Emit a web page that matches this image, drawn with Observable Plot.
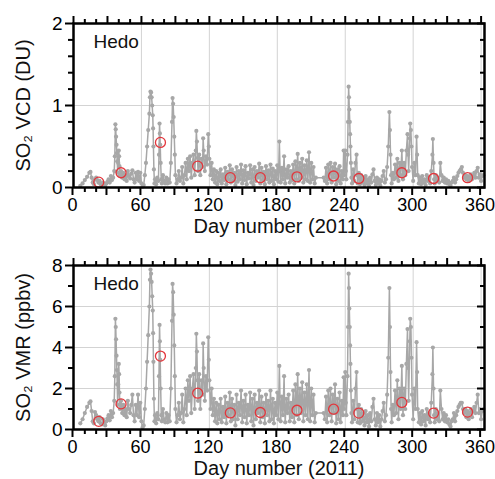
<!DOCTYPE html>
<html><head><meta charset="utf-8">
<script src="https://cdn.jsdelivr.net/npm/d3@7"></script>
<script src="https://cdn.jsdelivr.net/npm/@observablehq/plot@0.6"></script>
<style>
body{margin:0;background:#fff;}
#chart{width:495px;height:479px;overflow:hidden;}
#chart svg{display:block;}
</style></head><body><div id="chart"></div>
<script>
const stationName = "Hedo";
const xLabel = "Day number (2011)";
const vcdLabel = "SO₂ VCD (DU)";
const vmrLabel = "SO₂ VMR (ppbv)";
const xTickLabels = [0, 60, 120, 180, 240, 300, 360];
const xMajorTicks = [0, 30, 60, 90, 120, 150, 180, 210, 240, 270, 300, 330, 360];
const xMinorTicks = [10, 20, 40, 50, 70, 80, 100, 110, 130, 140, 160, 170, 190, 200, 220, 230, 250, 260, 280, 290, 310, 320, 340, 350];
const vcdTickLabels = [0, 1, 2];
const vcdMinorTicks = [0.2, 0.4, 0.6, 0.8, 1.2, 1.4, 1.6, 1.8];
const vcdGrid = [1];
const vmrTickLabels = [0, 2, 4, 6, 8];
const vmrMinorTicks = [1, 3, 5, 7];
const vmrGrid = [2, 4, 6];

// monthly means (red circles)
const meanDays = [22.3, 42, 76.8, 109.7, 138.5, 165, 197.4, 229.7, 252, 290, 318, 348];
const vcdMeans = [0.065, 0.18, 0.55, 0.26, 0.12, 0.12, 0.13, 0.14, 0.11, 0.18, 0.11, 0.12];
const vmrMeans = [0.40, 1.25, 3.58, 1.77, 0.81, 0.83, 0.94, 0.99, 0.80, 1.32, 0.80, 0.85];

// observations: [day, SO2 VCD (DU)]
const vcdSeries = [
[6,0.02],[8,0.05],[10,0.09],[12,0.13],[14,0.18],[15,0.19],[16,0.12],[17,0.06],[18,0.04],[19,0.10],[20,0.12],[21,0.09],[22,0.06],[23,0.08],[24,0.04],[25,0.03],[26,0.06],[27,0.04],[28,0.02],[29,0.05],[30,0.07],[31,0.10],[32,0.06],[33,0.14],[34,0.09],[35,0.12],[36,0.20],[36.5,0.38],[37,0.77],[37.3,0.71],[37.6,0.62],[38,0.52],[38.3,0.42],[38.6,0.32],[39,0.18],[39.5,0.30],[40,0.45],[40.3,0.38],[40.6,0.26],[41,0.15],[42,0.20],[43,0.12],[44,0.18],[45,0.10],[46,0.15],[47,0.08],[48,0.20],[49,0.14],[50,0.11],[51,0.17],[52,0.21],[53,0.10],[54,0.06],[55,0.18],[56,0.10],[57,0.19],[58,0.08],[59,0.18],[60,0.05],[61,0.01],[62,0.03],
[63,0.15],[64,0.30],[65,0.50],[66,0.70],[67,0.90],[67.5,1.10],[68,1.17],[68.5,1.16],[69,1.10],[69.5,1.00],[70,0.88],[70.3,0.72],[70.6,0.50],[71,0.22],[71.5,0.05],[72,0.10],[73,0.04],[74,0.12],[75,0.08],[75.5,0.40],[76,0.78],[76.3,0.66],[76.6,0.52],[77,0.30],[77.5,0.10],[78,0.05],[79,0.15],[80,0.08],[81,0.05],[82,0.12],[83,0.05],[84,0.10],[85,0.06],[86,0.30],[87,0.80],[87.5,1.09],[88,1.02],[88.5,0.86],[89,0.62],[89.5,0.40],[90,0.15],[91,0.05],[92,0.10],[93,0.20],[94,0.08],[95,0.12],[96,0.25],[97,0.05],[98,0.15],[99,0.30],[100,0.10],[101,0.35],[102,0.20],[103,0.38],[104,0.12],[105,0.30],[106,0.40],[107,0.15],[108,0.45],[108.5,0.69],[109,0.56],[109.5,0.36],[110,0.20],[111,0.40],[112,0.15],[113,0.35],[114,0.25],[114.5,0.60],[115,0.45],[116,0.20],[117,0.38],[118,0.28],[119,0.65],[119.5,0.50],[120,0.35],[121,0.15],[122,0.30],[123,0.10],[124,0.22],
[125,0.06],[126,0.20],[127,0.04],[128,0.18],[129,0.08],[130,0.22],[131,0.05],[132,0.16],[133,0.09],[134,0.24],[135,0.04],[136,0.19],[137,0.10],[138,0.27],[139,0.06],[140,0.22],[141,0.08],[142,0.18],[143,0.03],[144,0.25],[145,0.07],[146,0.20],[147,0.10],[148,0.28],[149,0.05],[150,0.21],[151,0.09],[152,0.26],[153,0.04],[154,0.18],[155,0.11],[156,0.27],[157,0.06],[158,0.22],[159,0.03],[160,0.25],[161,0.08],[162,0.20],[163,0.12],[164,0.29],[165,0.05],[166,0.24],[167,0.09],[168,0.19],[169,0.04],[170,0.26],[171,0.10],[172,0.21],[173,0.06],[174,0.28],[175,0.08],[176,0.23],[177,0.04],[178,0.20],[179,0.10],[180,0.27],[181,0.07],[181.8,0.56],[182.5,0.20],[183,0.06],[184,0.24],[185,0.10],[186,0.38],[186.5,0.15],[187,0.05],[188,0.22],[189,0.12],[190,0.26],[191,0.06],[192,0.20],[193,0.09],[194,0.28],[195,0.05],[196,0.32],[197,0.10],[198,0.41],[198.5,0.22],[199,0.08],[200,0.30],[201,0.12],[202,0.35],[203,0.06],[204,0.27],[205,0.10],[206,0.33],[207,0.08],[208,0.43],[208.5,0.20],[209,0.06],[210,0.30],[211,0.10],[212,0.25],[213,0.05],[214,0.12],
[221,0.12],[222,0.08],[223,0.24],[224,0.05],[225,0.28],[226,0.10],[227,0.30],[228,0.06],[229,0.25],[230,0.12],[231,0.29],[232,0.04],[233,0.22],[234,0.08],[235,0.26],[236,0.05],[237,0.20],[238,0.10],[238.6,0.45],[239,0.15],[240,0.45],[240.5,0.20],[241,0.10],[242,0.40],[242.5,0.80],[243,1.23],[243.3,1.10],[243.6,0.95],[244,0.80],[244.3,0.65],[244.6,0.50],[245,0.30],[245.5,0.12],[246,0.05],[247,0.22],[248,0.08],[249,0.30],[250,0.40],[250.5,0.15],[251,0.05],[252,0.18],[253,0.04],[254,0.15],[255,0.06],[256,0.12],[257,0.03],[258,0.14],[259,0.05],[260,0.10],[261,0.02],[262,0.12],[263,0.06],[264,0.16],[265,0.22],[266,0.08],[267,0.03],[268,0.12],[269,0.05],[270,0.10],[271,0.02],[272,0.08],[273,0.14],[274,0.20],[275,0.06],[276,0.10],[277,0.25],[278,0.50],[279,0.92],[279.5,0.70],[280,0.40],[280.5,0.15],[281,0.05],[282,0.18],[283,0.10],[284,0.28],[285,0.12],[286,0.35],[287,0.08],[288,0.30],[289,0.15],[290,0.45],[290.5,0.25],[291,0.10],[292,0.30],[293,0.15],[294,0.45],[295,0.65],[295.5,0.40],[296,0.20],[297,0.60],[297.4,0.78],[298,0.70],[298.5,0.50],[299,0.25],[300,0.08],[301,0.30],[302,0.15],[303,0.62],[303.5,0.40],[304,0.15],[305,0.05],[306,0.12],[307,0.04],[308,0.14],[309,0.06],[310,0.10],[311,0.03],[312,0.15],[313,0.08],[314,0.12],[315,0.05],[316,0.20],[317,0.40],[317.4,0.59],[318,0.30],[318.5,0.10],[319,0.05],[320,0.15],[321,0.08],[322,0.12],[323,0.06],[324,0.30],[325,0.15],[326,0.08],[327,0.12],[328,0.06],[329,0.10],[330,0.05],[331,0.08],[332,0.04],[333,0.02],[334,0.06],[335,0.08],[336,0.12],[337,0.06],[338,0.10],[339,0.14],[340,0.18],[341,0.20],[342,0.22],[343,0.25],[344,0.18],[345,0.12],[346,0.15],[347,0.10],[348,0.14],[349,0.08],[350,0.12],[351,0.16],[352,0.10],[353,0.14],[354,0.18],[355,0.12],[356,0.20],[357,0.24],[358,0.12],[359,0.16],[360,0.08],[361,0.14],[362,0.15]
];

// observations: [day, SO2 VMR (ppbv)]
const vmrSeries = [
[6,0.3],[8,0.5],[10,0.8],[12,1.1],[14,1.3],[15,1.37],[16,0.9],[17,0.4],[18,0.3],[19,0.85],[20,0.7],[21,0.5],[22,0.4],[23,0.6],[24,0.3],[25,0.25],[26,0.5],[27,0.35],[28,0.2],[29,0.4],[30,0.55],[31,0.7],[32,0.45],[33,0.9],[34,0.6],[35,0.8],[36,1.4],[36.5,2.6],[37,5.4],[37.3,5.0],[37.6,4.4],[38,3.6],[38.3,2.9],[38.6,2.2],[39,1.2],[39.5,2.2],[40,3.2],[40.3,2.7],[40.6,1.8],[41,1.0],[42,1.4],[43,0.8],[44,1.2],[45,0.7],[46,1.0],[47,0.6],[48,1.4],[49,1.0],[50,0.8],[51,1.2],[52,1.7],[53,0.7],[54,0.4],[55,1.2],[56,0.7],[57,1.7],[58,0.6],[59,1.3],[60,0.4],[61,0.1],[62,0.2],
[63,1.0],[64,2.0],[65,3.3],[66,4.6],[67,6.0],[67.5,7.3],[68,7.8],[68.5,7.6],[69,7.2],[69.5,6.5],[70,5.8],[70.3,4.7],[70.6,3.3],[71,1.5],[71.5,0.4],[72,0.7],[73,0.3],[74,0.8],[75,0.5],[75.5,2.6],[76,5.1],[76.3,4.3],[76.6,3.4],[77,2.0],[77.5,0.7],[78,0.4],[79,1.0],[80,0.5],[81,0.35],[82,0.8],[83,0.35],[84,0.7],[85,0.4],[86,2.0],[87,5.3],[87.5,7.1],[88,6.7],[88.5,5.6],[89,4.1],[89.5,2.6],[90,1.0],[91,0.35],[92,0.7],[93,1.3],[94,0.5],[95,0.8],[96,1.7],[97,0.35],[98,1.0],[99,2.0],[100,0.7],[101,2.4],[102,1.4],[103,2.6],[104,0.8],[105,2.0],[106,2.7],[107,1.0],[108,3.0],[108.5,4.67],[109,3.8],[109.5,2.4],[110,1.4],[111,2.7],[112,1.0],[113,2.4],[114,1.7],[114.5,4.2],[115,3.0],[116,1.4],[117,2.6],[118,1.9],[119,4.5],[119.5,3.4],[120,2.4],[121,1.0],[122,2.0],[123,0.7],[124,1.5],
[125,0.4],[126,1.3],[127,0.3],[128,1.2],[129,0.5],[130,1.5],[131,0.35],[132,1.1],[133,0.6],[134,1.6],[135,0.3],[136,1.3],[137,0.7],[138,1.8],[139,0.4],[140,1.5],[141,0.5],[142,1.2],[143,0.2],[144,1.7],[145,0.5],[146,1.3],[147,0.7],[148,1.9],[149,0.35],[150,1.4],[151,0.6],[152,1.7],[153,0.3],[154,1.2],[155,0.7],[156,1.8],[157,0.4],[158,1.5],[159,0.2],[160,1.7],[161,0.5],[162,1.3],[163,0.8],[164,1.9],[165,0.35],[166,1.6],[167,0.6],[168,1.3],[169,0.3],[170,1.7],[171,0.7],[172,1.4],[173,0.4],[174,1.9],[175,0.5],[176,1.5],[177,0.3],[178,1.3],[179,0.7],[180,1.8],[181,0.5],[181.8,3.1],[182.5,1.3],[183,0.4],[184,1.6],[185,0.7],[186,2.6],[186.5,1.0],[187,0.35],[188,1.5],[189,0.8],[190,1.7],[191,0.4],[192,1.3],[193,0.6],[194,1.9],[195,0.35],[196,2.2],[197,0.7],[198,2.7],[198.5,1.5],[199,0.5],[200,2.0],[201,0.8],[202,2.3],[203,0.4],[204,1.8],[205,0.7],[206,2.2],[207,0.5],[208,2.9],[208.5,1.3],[209,0.4],[210,2.0],[211,0.7],[212,1.7],[213,0.35],[214,0.8],
[221,0.8],[222,0.5],[223,1.6],[224,0.35],[225,1.9],[226,0.7],[227,2.0],[228,0.4],[229,1.7],[230,0.8],[231,2.2],[232,0.3],[233,1.5],[234,0.5],[235,1.8],[236,0.35],[237,1.4],[238,0.7],[238.6,2.55],[239,1.0],[240,2.8],[240.5,1.3],[241,0.7],[242,2.6],[242.5,5.0],[243,7.6],[243.3,6.9],[243.6,5.9],[244,5.0],[244.3,4.1],[244.6,3.2],[245,1.9],[245.5,0.8],[246,0.35],[247,1.4],[248,0.5],[249,2.0],[250,2.8],[250.5,1.0],[251,0.35],[252,1.2],[253,0.3],[254,1.0],[255,0.4],[256,0.8],[257,0.2],[258,0.9],[259,0.35],[260,0.7],[261,0.15],[262,0.8],[263,0.4],[264,1.1],[265,1.5],[266,0.5],[267,0.2],[268,0.8],[269,0.35],[270,0.7],[271,0.15],[272,0.5],[273,0.9],[274,1.3],[275,0.4],[276,0.7],[277,1.7],[278,3.5],[279,6.9],[279.5,5.0],[280,2.8],[280.5,1.0],[281,0.35],[282,1.2],[283,0.7],[284,1.9],[285,0.8],[286,2.4],[287,0.5],[288,2.0],[289,1.0],[290,3.1],[290.5,1.7],[291,0.7],[292,2.0],[293,1.0],[294,3.2],[295,4.9],[295.5,3.0],[296,1.4],[297,4.3],[297.4,5.4],[298,5.0],[298.5,3.5],[299,1.7],[300,0.5],[301,2.0],[302,1.0],[303,4.26],[303.5,2.8],[304,1.0],[305,0.35],[306,0.8],[307,0.25],[308,0.9],[309,0.4],[310,0.7],[311,0.2],[312,1.0],[313,0.5],[314,0.8],[315,0.35],[316,1.3],[317,2.7],[317.4,4.0],[318,2.0],[318.5,0.7],[319,0.35],[320,1.0],[321,0.5],[322,0.8],[323,0.4],[324,1.9],[325,1.0],[326,0.5],[327,0.8],[328,0.4],[329,0.7],[330,0.35],[331,0.5],[332,0.25],[333,0.15],[334,0.4],[335,0.5],[336,0.8],[337,0.4],[338,0.7],[339,0.9],[340,1.1],[341,1.2],[342,1.3],[343,1.3],[344,1.0],[345,0.8],[346,1.0],[347,0.6],[348,0.9],[349,0.5],[350,0.8],[351,1.0],[352,0.6],[353,0.9],[354,1.1],[355,0.8],[356,1.3],[357,1.7],[358,0.8],[359,1.0],[360,0.5],[361,0.9],[362,1.0]
];

const font = "'Liberation Sans', Arial, Helvetica, sans-serif";
const grey = "#a7a7a7";
const gridColor = "#d3d3d3";
const meanColor = "#e3363c";

function panel(o) {
  const series = o.series.map(([day, value]) => ({day, value}));
  const means = meanDays.map((day, i) => ({day, value: o.means[i]}));
  const blank = () => "";
  return Plot.plot({
    width: 495,
    height: o.height,
    marginLeft: 73,
    marginRight: 11,
    marginTop: o.marginTop,
    marginBottom: o.marginBottom,
    style: {fontFamily: font, fontSize: "18px", color: "#000", background: "white"},
    x: {domain: [0, 363], label: null},
    y: {domain: o.yDomain, label: null},
    marks: [
      Plot.gridX(xTickLabels.filter(d => d > 0), {stroke: gridColor, strokeOpacity: 1, strokeWidth: 1}),
      Plot.gridY(o.yGrid, {stroke: gridColor, strokeOpacity: 1, strokeWidth: 1}),
      Plot.line(series, {x: "day", y: "value", stroke: grey, strokeWidth: 1.5}),
      Plot.dot(series, {x: "day", y: "value", r: 2.1, fill: grey}),
      Plot.dot(means, {x: "day", y: "value", r: 5, stroke: meanColor, strokeWidth: 1.3, fill: "none"}),
      Plot.text([stationName], {frameAnchor: "top-left", dx: 20, dy: o.nameDy, textAnchor: "start", lineAnchor: "top", fontSize: 19, fontFamily: font, fill: "#111"}),
      Plot.axisX(xMajorTicks, {tickSize: 8, tickPadding: 3, strokeWidth: 2, fontSize: 18, fontFamily: font, dx: -1, tickFormat: d => (d % 60 === 0 ? String(d) : ""), label: null}),
      Plot.axisX(xMinorTicks, {tickSize: 5, strokeWidth: 2, tickFormat: blank, label: null}),
      Plot.axisX(xMajorTicks, {anchor: "top", tickSize: 8, strokeWidth: 2, tickFormat: blank, label: null}),
      Plot.axisX(xMinorTicks, {anchor: "top", tickSize: 5, strokeWidth: 2, tickFormat: blank, label: null}),
      Plot.axisY(o.yLabels, {tickSize: 8, tickPadding: 3, strokeWidth: 2, fontSize: 19, fontFamily: font, tickFormat: d => String(d), label: null}),
      Plot.axisY(o.yMinor, {tickSize: 5, strokeWidth: 2, tickFormat: blank, label: null}),
      Plot.axisY(o.yLabels, {anchor: "right", tickSize: -8, strokeWidth: 2, tickFormat: blank, label: null}),
      Plot.axisY(o.yMinor, {anchor: "right", tickSize: -5, strokeWidth: 2, tickFormat: blank, label: null}),
      Plot.text([xLabel], {frameAnchor: "bottom", dy: o.xLabelDy, textAnchor: "middle", lineAnchor: "top", fontSize: 20, fontFamily: font, fill: "#111"}),
      Plot.text([o.yLabel], {frameAnchor: "left", dx: -58, rotate: -90, textAnchor: "middle", lineAnchor: "top", fontSize: 20, fontFamily: font, fill: "#111"}),
      Plot.frame({stroke: "black", strokeWidth: 2.5})
    ]
  });
}

const chart = document.getElementById("chart");
chart.appendChild(panel({
  series: vcdSeries, means: vcdMeans, yDomain: [0, 2], yLabels: vcdTickLabels, yMinor: vcdMinorTicks,
  yGrid: vcdGrid, yLabel: vcdLabel, height: 240, marginTop: 23, marginBottom: 53, xLabelDy: 31, nameDy: 11
}));
chart.appendChild(panel({
  series: vmrSeries, means: vmrMeans, yDomain: [0, 8], yLabels: vmrTickLabels, yMinor: vmrMinorTicks,
  yGrid: vmrGrid, yLabel: vmrLabel, height: 239, marginTop: 25, marginBottom: 50, xLabelDy: 31, nameDy: 11
}));
</script>
</body></html>
